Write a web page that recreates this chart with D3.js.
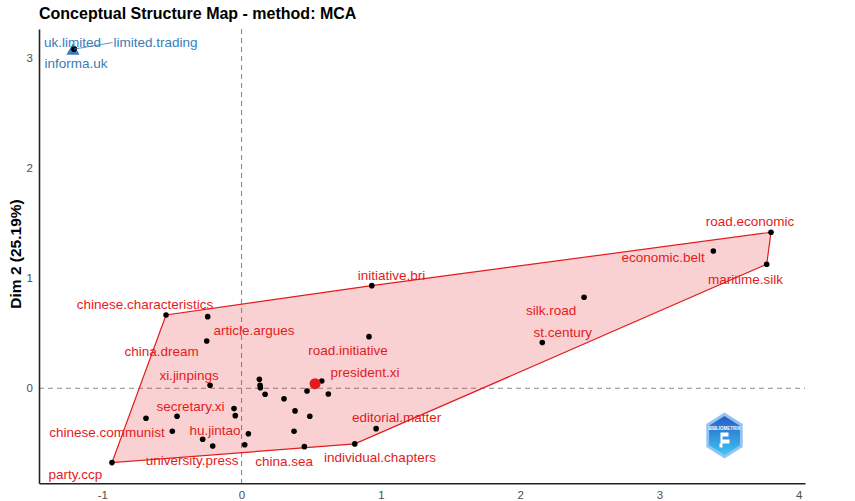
<!DOCTYPE html>
<html>
<head>
<meta charset="utf-8">
<script src="https://cdn.jsdelivr.net/npm/d3@7"></script>
<style>
  body { margin: 0; background: #fff; }
  svg { display: block; font-family: "Liberation Sans", Arial, sans-serif; }
</style>
</head>
<body>
<script>
// word coordinates on the first two MCA dimensions
var dim1 = [-0.542, -0.243, -0.250, -0.226, 0.128, 0.133, 0.135, 0.169, 0.305, 0.470,
            0.576, 0.623, 0.384, 0.490, 0.377, 0.451, 0.813, 0.966, 0.915, 0.935,
            -0.054, -0.045, 0.049, 0.023, -0.207, -0.279, -0.463, -0.497, -0.686, -0.930,
            3.801, 3.770, 3.387, 2.459, 2.159,
            -1.203, -1.201, -1.202];
var dim2 = [0.666, 0.651, 0.430, 0.027, 0.082, 0.027, 0.005, -0.055, -0.095, -0.025,
            0.066, -0.052, -0.206, -0.255, -0.391, -0.531, -0.506, -0.367, 0.469, 0.933,
            -0.185, -0.249, -0.413, -0.513, -0.525, -0.464, -0.255, -0.391, -0.273, -0.676,
            1.418, 1.127, 1.248, 0.827, 0.415,
            3.083, 3.081, 3.084];
var cluster = [1, 1, 1, 1, 1, 1, 1, 1, 1, 1,
               1, 1, 1, 1, 1, 1, 1, 1, 1, 1,
               1, 1, 1, 1, 1, 1, 1, 1, 1, 1,
               1, 1, 1, 1, 1,
               2, 2, 2];

// cluster centroids
var centroidDim1 = [0.528, -1.21];
var centroidDim2 = [0.042, 3.067];

// repelled word labels (label position in plot units)
var labelText = ["chinese.characteristics", "article.argues", "china.dream", "road.initiative",
                 "xi.jinpings", "president.xi", "secretary.xi", "editorial.matter",
                 "chinese.communist", "hu.jintao", "university.press", "china.sea",
                 "individual.chapters", "party.ccp", "initiative.bri", "road.economic",
                 "economic.belt", "maritime.silk", "silk.road", "st.century",
                 "uk.limited", "limited.trading", "informa.uk"];
var labelDim1 = [-0.693, 0.090, -0.574, 0.765, -0.377, 0.887, -0.366, 1.114,
                 -0.966, -0.190, -0.355, 0.305, 0.994, -1.192, 1.077, 3.650,
                 3.026, 3.618, 2.222, 2.306, -1.213, -0.617, -1.188];
var labelDim2 = [0.766, 0.530, 0.333, 0.342, 0.121, 0.142, -0.161, -0.264,
                 -0.400, -0.379, -0.652, -0.661, -0.631, -0.782, 1.024, 1.521,
                 1.187, 0.991, 0.712, 0.505, 3.145, 3.145, 2.955];
var labelCluster = [1, 1, 1, 1, 1, 1, 1, 1, 1, 1, 1, 1, 1, 1, 1, 1, 1, 1, 1, 1, 2, 2, 2];
var labelSegment = [0, 0, 0, 0, 0, 0, 0, 0, 0, 0, 0, 0, 0, 0, 0, 0, 0, 0, 0, 0, 0, 1, 0];

var xTicks = [-1, 0, 1, 2, 3, 4];
var yTicks = [0, 1, 2, 3];

var width = 855;
var height = 501;
var clusterColor = { 1: "#E41A1C", 2: "#377EB8" };

var x = d3.scaleLinear().domain([-1.454, 4.045]).range([39, 805]);
var y = d3.scaleLinear().domain([-0.864, 3.266]).range([483.3, 29]);

var svg = d3.select("body")
  .append("svg")
  .attr("width", width)
  .attr("height", height);

var points = dim1.map(function(d, i) {
  return { x: d, y: dim2[i], cluster: cluster[i] };
});

// reference lines at zero
svg.append("line")
  .attr("x1", x(0)).attr("x2", x(0))
  .attr("y1", y.range()[1]).attr("y2", y.range()[0])
  .attr("stroke", "#8c8c8c")
  .attr("stroke-width", 1.1)
  .attr("stroke-dasharray", "5,4");
svg.append("line")
  .attr("x1", x.range()[0]).attr("x2", x.range()[1])
  .attr("y1", y(0)).attr("y2", y(0))
  .attr("stroke", "#8c8c8c")
  .attr("stroke-width", 1.1)
  .attr("stroke-dasharray", "5,4");

// convex hull of every cluster
[1, 2].forEach(function(c) {
  var pts = points.filter(function(p) { return p.cluster === c; })
    .map(function(p) { return [x(p.x), y(p.y)]; });
  var hull = d3.polygonHull(pts);
  if (!hull) return;
  svg.append("path")
    .attr("d", "M" + hull.join("L") + "Z")
    .attr("fill", clusterColor[c])
    .attr("fill-opacity", 0.2)
    .attr("stroke", clusterColor[c])
    .attr("stroke-width", 1.2);
});

// word points
svg.selectAll("circle.word")
  .data(points)
  .enter()
  .append("circle")
  .attr("class", "word")
  .attr("cx", function(d) { return x(d.x); })
  .attr("cy", function(d) { return y(d.y); })
  .attr("r", 2.8)
  .attr("fill", "black");

// centroids: circle for cluster 1, triangle for cluster 2
svg.append("circle")
  .attr("cx", x(centroidDim1[0]))
  .attr("cy", y(centroidDim2[0]))
  .attr("r", 5.5)
  .attr("fill", clusterColor[1]);
svg.append("path")
  .attr("d", d3.symbol().type(d3.symbolTriangle).size(75))
  .attr("transform", "translate(" + x(centroidDim1[1]) + "," + y(centroidDim2[1]) + ")")
  .attr("fill", clusterColor[2]);
svg.append("circle")
  .attr("cx", x(dim1[35]))
  .attr("cy", y(dim2[35]))
  .attr("r", 2.8)
  .attr("fill", "black");

// labels
var labels = svg.selectAll("text.lab")
  .data(labelText)
  .enter()
  .append("text")
  .attr("class", "lab")
  .text(function(d) { return d; })
  .attr("x", function(d, i) { return x(labelDim1[i]); })
  .attr("y", function(d, i) { return y(labelDim2[i]); })
  .attr("dy", "0.35em")
  .attr("text-anchor", "middle")
  .attr("font-size", "13.5px")
  .attr("fill", function(d, i) { return clusterColor[labelCluster[i]]; });

// segment from the cluster-2 point to its pushed label
labels.each(function(d, i) {
  if (!labelSegment[i]) return;
  var box = this.getBBox();
  svg.insert("line", "text.lab")
    .attr("x1", x(dim1[35])).attr("y1", y(dim2[35]))
    .attr("x2", box.x - 1).attr("y2", box.y + box.height / 2)
    .attr("stroke", clusterColor[labelCluster[i]])
    .attr("stroke-width", 0.8);
});

// axes
function tickLabel(d) { return String(d); }

var xAxis = svg.append("g")
  .attr("transform", "translate(0," + y.range()[0] + ")")
  .call(d3.axisBottom(x).tickValues(xTicks).tickFormat(tickLabel)
    .tickSize(0).tickSizeOuter(0).tickPadding(8));
var yAxis = svg.append("g")
  .attr("transform", "translate(" + x.range()[0] + ",0)")
  .call(d3.axisLeft(y).tickValues(yTicks).tickFormat(tickLabel)
    .tickSize(0).tickSizeOuter(0).tickPadding(6));

[xAxis, yAxis].forEach(function(g) {
  g.select(".domain").attr("stroke", "#222").attr("stroke-width", 1.6);
  g.selectAll("text")
    .attr("font-family", "Liberation Sans, Arial, sans-serif")
    .attr("font-size", "11.5px")
    .attr("fill", "#4d4d4d");
});

// titles
svg.append("text")
  .text("Conceptual Structure Map - method: MCA")
  .attr("x", 39)
  .attr("y", 18.5)
  .attr("font-size", "16px")
  .attr("font-weight", "bold")
  .attr("fill", "black");

svg.append("text")
  .text("Dim 2 (25.19%)")
  .attr("transform", "translate(21," + 254 + ") rotate(-90)")
  .attr("text-anchor", "middle")
  .attr("font-size", "15.5px")
  .attr("font-weight", "bold")
  .attr("fill", "black");

// bibliometrix logo
var defs = svg.append("defs");
var grad = defs.append("linearGradient")
  .attr("id", "logoGrad")
  .attr("x1", 0).attr("y1", 0).attr("x2", 0).attr("y2", 1);
grad.append("stop").attr("offset", "0%").attr("stop-color", "#2a5cc4");
grad.append("stop").attr("offset", "100%").attr("stop-color", "#3cc6f2");

var logo = svg.append("g").attr("transform", "translate(724.5,435.5)");
var hex = d3.range(6).map(function(k) {
  var a = Math.PI / 3 * k - Math.PI / 2;
  return [21 * Math.cos(a), 23 * Math.sin(a)];
});
logo.append("path")
  .attr("d", "M" + hex.join("L") + "Z")
  .attr("fill", "#8fc4f5");
logo.append("path")
  .attr("d", "M" + hex.map(function(p) { return [p[0] * 0.85, p[1] * 0.85]; }).join("L") + "Z")
  .attr("fill", "url(#logoGrad)");
logo.append("text")
  .text("BIBLIOMETRIX")
  .attr("y", -6)
  .attr("text-anchor", "middle")
  .attr("font-size", "4.5px")
  .attr("font-weight", "bold")
  .attr("fill", "white");
logo.append("path")
  .attr("d", "M-4,-3 L4,-3 L4,1 L-2,1 L-2,4 L5,4 L5,8 L-2,8 L-2,12 L-5,12 L-5,8 L-4,8 Z")
  .attr("fill", "white");
</script>
</body>
</html>
